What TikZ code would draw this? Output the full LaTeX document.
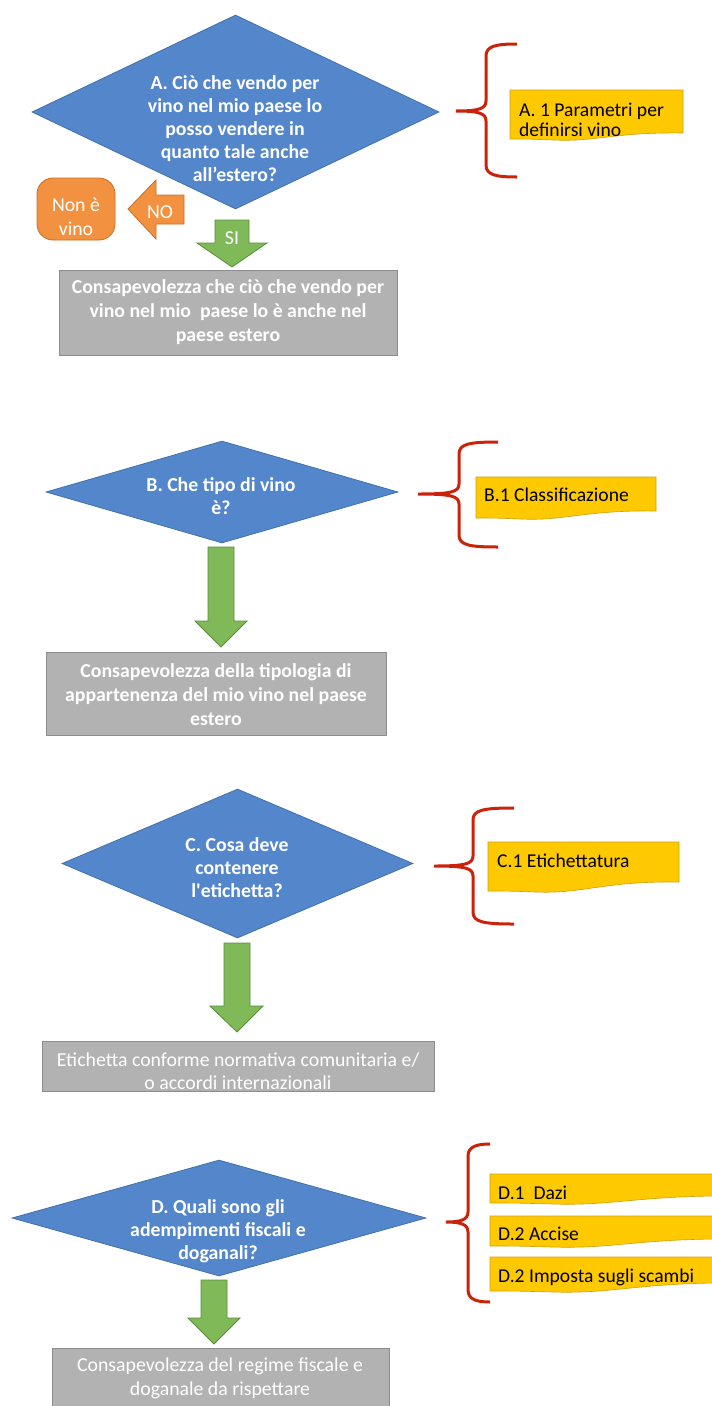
\documentclass[tikz,border=0pt]{standalone}
\usepackage{fontspec}
\setmainfont{Carlito}
\usetikzlibrary{shapes.geometric}
\definecolor{bluef}{RGB}{84,134,204}
\definecolor{blued}{RGB}{65,113,170}
\definecolor{greenf}{RGB}{128,185,88}
\definecolor{greend}{RGB}{90,140,60}
\definecolor{orangef}{RGB}{242,146,64}
\definecolor{oranged}{RGB}{200,110,40}
\definecolor{greyf}{RGB}{178,178,178}
\definecolor{greyd}{RGB}{140,140,140}
\definecolor{yellowf}{RGB}{255,201,0}
\definecolor{yellowd}{RGB}{205,160,20}
\definecolor{redb}{RGB}{204,34,10}
% document shape: x1 y1 x2 yright-bottom yleft-bottom
\newcommand\ydoc[5]{%
  \pgfmathsetmacro\ydw{#3-#1}%
  \draw[ydocst] (#1,#2) -- (#3,#2) -- (#3,#4)
    .. controls ({#1+0.6*\ydw},{#4-1}) and ({#1+0.5*\ydw},{#5+3}) .. ({#1+0.25*\ydw},{#5+1})
    .. controls ({#1+0.1*\ydw},{#5}) .. (#1,#5) -- cycle;}
% brace: xend xv xtip ytop ytip ybot
\newcommand\rbr[6]{%
  \draw[bracest] (#1,#4) .. controls ({#2+10},#4) and (#2,{#4+2}) .. (#2,{#4+12})
    -- (#2,{#5-10}) .. controls (#2,{#5-2}) and ({#2-8},#5) .. (#3,#5)
    .. controls ({#2-8},#5) and (#2,{#5+2}) .. (#2,{#5+10})
    -- (#2,{#6-12}) .. controls (#2,{#6-2}) and ({#2+10},#6) .. (#1,#6);}
\begin{document}
\begin{tikzpicture}[x=1pt,y=-1pt,
  dia/.style={diamond, fill=bluef, draw=blued, line width=0.8pt, inner sep=0pt},
  dtext/.style={text=white, font=\fontsize{19.8}{23}\selectfont\bfseries, align=center},
  gbox/.style={rectangle, fill=greyf, draw=greyd, line width=1pt, inner sep=0pt},
  gtextb/.style={text=white, font=\fontsize{19.8}{24}\selectfont\bfseries, align=center},
  gtext/.style={text=white, font=\fontsize{19.8}{23.5}\selectfont, align=center},
  ydocst/.style={fill=yellowf, draw=yellowd, line width=0.6pt},
  ytext/.style={text=black, font=\fontsize{19.6}{20}\selectfont, align=left, anchor=west, inner sep=0pt},
  garrow/.style={fill=greenf, draw=greend, line width=0.8pt},
  oarrow/.style={fill=orangef, draw=oranged, line width=0.8pt},
  bracest/.style={draw=redb, line width=3pt},
  wtext/.style={text=white, font=\fontsize{19.8}{24}\selectfont, align=center}
]
\useasboundingbox (0,0) rectangle (712,1406);

% ---------- A ----------
\node[dia, minimum width=407pt, minimum height=194pt] (A) at (235.5,112) {};
\node[dtext] (At) at (235,129) {A. Ciò che vendo per\\vino nel mio paese lo\\posso vendere in\\quanto tale anche\\all’estero?};
\rbr{517}{486}{456}{44}{111}{177}
\ydoc{510}{90}{683}{133}{139}
\node[ytext] (A1) at (519,120) {A. 1 Parametri per\\definirsi vino};
\node[rectangle, rounded corners=16pt, fill=orangef, draw=oranged, line width=0.8pt, minimum width=78pt, minimum height=62pt] (NV) at (76,209) {};
\node[wtext] (NVt) at (76,217) {Non è\\vino};
\draw[oarrow] (128,209) -- (156,180) -- (156,195) -- (184,195) -- (184,224) -- (156,224) -- (156,239) -- cycle;
\node[wtext] (NO) at (160,212) {NO};
\draw[garrow] (215,220) -- (249,220) -- (249,243) -- (267,243) -- (232,267) -- (197,243) -- (215,243) -- cycle;
\node[wtext] (SI) at (232,238) {SI};
\node[gbox, minimum width=338pt, minimum height=85pt] (G1) at (228,312.5) {};
\node[gtextb] (G1t) at (228,312) {Consapevolezza che ciò che vendo per\\vino nel mio\ \ paese lo è anche nel\\paese estero};

% ---------- B ----------
\node[dia, minimum width=352pt, minimum height=102pt] (B) at (222,492) {};
\node[dtext] (Bt) at (221,496) {B. Che tipo di vino\\è?};
\rbr{498}{459}{418}{442}{494}{547}
\ydoc{476}{477}{656}{511}{518}
\node[ytext] (B1) at (484,495) {B.1 Classificazione};
\draw[garrow] (208,547) -- (234,547) -- (234,621) -- (247,621) -- (221,647) -- (195,621) -- (208,621) -- cycle;
\node[gbox, minimum width=340pt, minimum height=83pt] (G2) at (216,693.5) {};
\node[gtextb] (G2t) at (216,695) {Consapevolezza della tipologia di\\appartenenza del mio vino nel paese\\estero};

% ---------- C ----------
\node[dia, minimum width=351pt, minimum height=149pt] (C) at (237.5,863.5) {};
\node[dtext] (Ct) at (237,868) {C. Cosa deve\\contenere\\l\textquotesingle etichetta?};
\rbr{514}{473}{434}{808}{866}{924}
\ydoc{488}{842}{679}{882}{891}
\node[ytext] (C1) at (497,861) {C.1 Etichettatura};
\draw[garrow] (224,943) -- (250,943) -- (250,1006) -- (263,1006) -- (237,1032) -- (210,1006) -- (224,1006) -- cycle;
\node[gbox, minimum width=392pt, minimum height=50pt] (G3) at (238,1066) {};
\node[gtext] (G3t) at (238,1071) {Etichetta conforme normativa comunitaria e/\\o accordi internazionali};

% ---------- D ----------
\node[dia, minimum width=414pt, minimum height=116pt] (D) at (219,1218) {};
\node[dtext] (Dt) at (218,1231) {D. Quali sono gli\\adempimenti fiscali e\\doganali?};
\rbr{490}{468}{446}{1144}{1222}{1302}
\ydoc{490}{1174}{740}{1196}{1203}
\node[ytext] (D1) at (498,1193) {D.1\ \ Dazi};
\ydoc{490}{1216}{740}{1239}{1246}
\node[ytext] (D2) at (498,1234) {D.2 Accise};
\ydoc{490}{1257}{740}{1283}{1291}
\node[ytext] (D3) at (498,1277) {D.2 Imposta sugli scambi};
\draw[garrow] (201,1280) -- (227,1280) -- (227,1318) -- (240,1318) -- (214,1344) -- (188,1318) -- (201,1318) -- cycle;
\node[gbox, minimum width=337pt, minimum height=64pt] (G4) at (220.5,1380) {};
\node[gtext] (G4t) at (220,1378.5) {Consapevolezza del regime fiscale e\\doganale da rispettare};
\end{tikzpicture}
\end{document}
